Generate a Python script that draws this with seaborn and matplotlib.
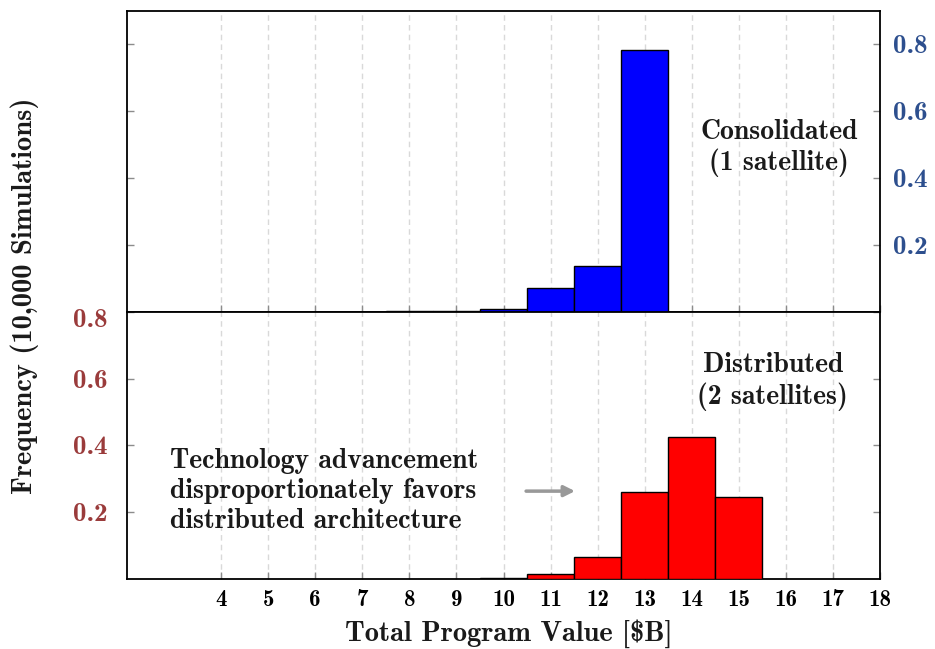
import numpy as np
import pandas as pd
import matplotlib
matplotlib.use("Agg")
import matplotlib.pyplot as plt
import matplotlib.transforms as mtransforms
import seaborn as sns

# Histogram data: share of simulations per program-value bin ($B)
program_value = [8, 9, 10, 11, 12, 13, 14, 15]
consolidated_freq = [0.001, 0.003, 0.008, 0.071, 0.138, 0.784, 0.0, 0.0]
distributed_freq = [0.0, 0.0, 0.002, 0.015, 0.067, 0.259, 0.426, 0.244]

x_ticks = list(range(4, 19))
y_ticks = [0.2, 0.4, 0.6, 0.8]
y_tick_labels = ["0.2", "0.4", "0.6", "0.8"]

sns.set_style("white")
plt.rcParams["font.family"] = "cmb10"
plt.rcParams["axes.unicode_minus"] = False

blue_lbl = "#2d4f8e"
red_lbl = "#9a3b3b"
tick_col = "#8c8c8c"
text_col = "#1a1a1a"

fig = plt.figure(figsize=(9.35, 6.49), dpi=100)
gs = fig.add_gridspec(2, 1, height_ratios=[0.9, 0.8], hspace=0.0,
                      left=127 / 935, right=880 / 935,
                      top=1 - 11 / 649, bottom=1 - 579 / 649)
ax_top = fig.add_subplot(gs[0])
ax_bot = fig.add_subplot(gs[1], sharex=ax_top)

df_top = pd.DataFrame({"value": program_value, "freq": consolidated_freq})
df_top = df_top[df_top["freq"] > 0]
df_bot = pd.DataFrame({"value": program_value, "freq": distributed_freq})
df_bot = df_bot[df_bot["freq"] > 0]

sns.histplot(data=df_top, x="value", weights="freq", discrete=True, shrink=1.0,
             color="#0000ff", alpha=1.0, edgecolor="black", linewidth=1.0,
             ax=ax_top, zorder=3)
sns.histplot(data=df_bot, x="value", weights="freq", discrete=True, shrink=1.0,
             color="#ff0000", alpha=1.0, edgecolor="black", linewidth=1.0,
             ax=ax_bot, zorder=3)

for ax in (ax_top, ax_bot):
    ax.set_xlim(2, 18)
    ax.set_xticks(x_ticks)
    ax.grid(axis="x", color="#d9d9d9", linestyle=(0, (4, 3)), linewidth=1.0, zorder=0)
    ax.grid(axis="y", visible=False)
    ax.set_xlabel("")
    ax.set_ylabel("")
    for s in ax.spines.values():
        s.set_color("black")
        s.set_linewidth(1.3)
        s.set_visible(True)
    ax.tick_params(axis="both", direction="in", length=5, width=1.0,
                   color=tick_col)
    ax.set_axisbelow(True)

# Upper panel: consolidated, labels on the right
ax_top.set_ylim(0, 0.9)
ax_top.set_yticks(y_ticks)
ax_top.set_yticklabels(y_tick_labels)
ax_top.tick_params(axis="y", left=True, right=True, labelleft=False,
                   labelright=True, pad=9, labelsize=19.5, labelcolor=blue_lbl)
ax_top.tick_params(axis="x", bottom=True, labelbottom=False)

# Lower panel: distributed, labels on the left
ax_bot.set_ylim(0, 0.8)
ax_bot.set_yticks(y_ticks)
ax_bot.set_yticklabels(y_tick_labels)
ax_bot.tick_params(axis="y", left=True, right=True, labelleft=True,
                   labelright=False, pad=14, labelsize=19.5, labelcolor=red_lbl)
ax_bot.tick_params(axis="x", bottom=True, labelbottom=True, labelsize=16.5,
                   pad=7, labelcolor="black")

# nudge the top left label below the panel divider
top_lbl = ax_bot.get_yticklabels()[-1]
top_lbl.set_transform(top_lbl.get_transform() +
                      mtransforms.ScaledTranslation(0, -6 / 100, fig.dpi_scale_trans))

ax_top.text(15.85, 0.49, "Consolidated\n(1 satellite)", ha="center", va="center",
            fontsize=20, color=text_col, linespacing=1.2)
ax_bot.text(15.72, 0.59, "Distributed\n(2 satellites)", ha="center", va="center",
            fontsize=20, color=text_col, linespacing=1.2)

ax_bot.text(2.91, 0.263,
            "Technology advancement\ndisproportionately favors\ndistributed architecture",
            ha="left", va="center", fontsize=20, color=text_col, linespacing=1.2)
ax_bot.annotate("", xy=(11.52, 0.263), xytext=(10.48, 0.263),
                arrowprops=dict(arrowstyle="-|>", color="#999999", lw=2.5,
                                mutation_scale=16, shrinkA=0, shrinkB=0))

fig.text(25 / 935, 1 - 296 / 649, "Frequency (10,000 Simulations)", rotation=90,
         ha="center", va="center", fontsize=20.5, color=text_col)
fig.text(509 / 935, 1 - 634 / 649, "Total Program Value [\\$B]",
         ha="center", va="center", fontsize=20.5, color=text_col)

fig.savefig("out.png", dpi=100)
